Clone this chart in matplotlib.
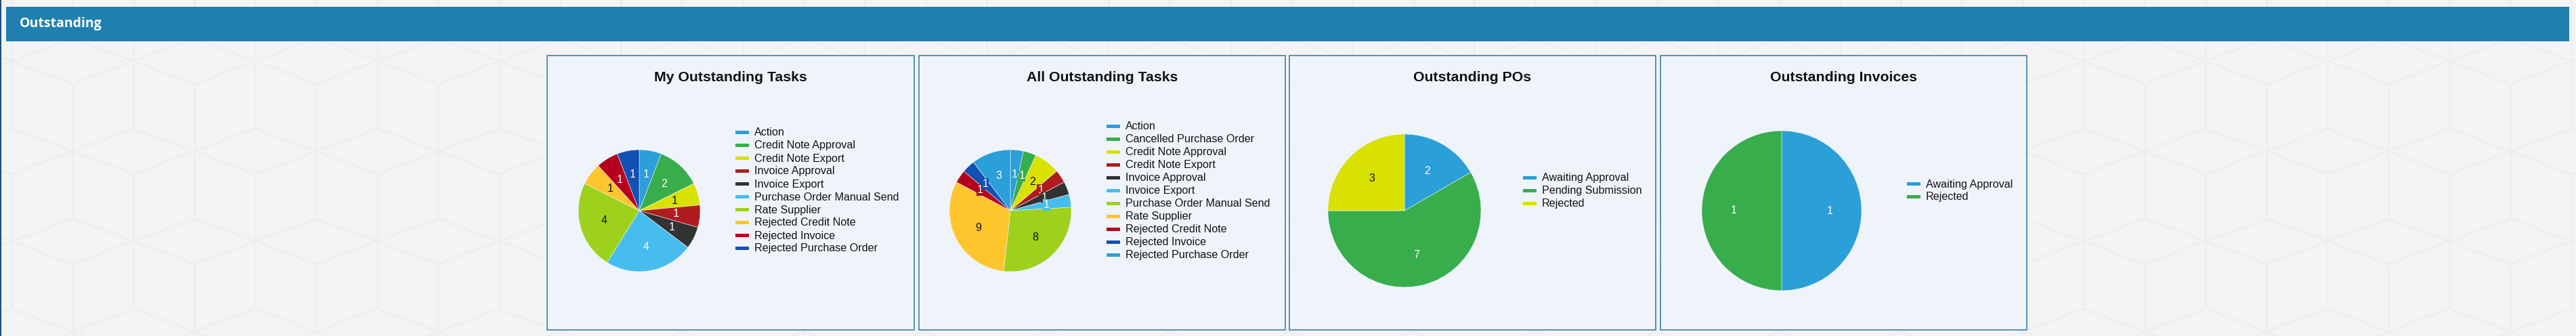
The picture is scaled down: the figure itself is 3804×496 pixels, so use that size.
import matplotlib
matplotlib.use("Agg")
import matplotlib.pyplot as plt
from matplotlib.patches import Rectangle
from matplotlib.collections import LineCollection

# ---------------- data ----------------
header_title = "Outstanding"
chart_titles = ["My Outstanding Tasks", "All Outstanding Tasks",
                "Outstanding POs", "Outstanding Invoices"]

my_tasks_labels = ["Action", "Credit Note Approval", "Credit Note Export",
                   "Invoice Approval", "Invoice Export",
                   "Purchase Order Manual Send", "Rate Supplier",
                   "Rejected Credit Note", "Rejected Invoice",
                   "Rejected Purchase Order"]
my_tasks_values = [1, 2, 1, 1, 1, 4, 4, 1, 1, 1]

all_tasks_labels = ["Action", "Cancelled Purchase Order", "Credit Note Approval",
                    "Credit Note Export", "Invoice Approval", "Invoice Export",
                    "Purchase Order Manual Send", "Rate Supplier",
                    "Rejected Credit Note", "Rejected Invoice",
                    "Rejected Purchase Order"]
all_tasks_values = [1, 1, 2, 1, 1, 1, 8, 9, 1, 1, 3]

po_labels = ["Awaiting Approval", "Pending Submission", "Rejected"]
po_values = [2, 7, 3]

inv_labels = ["Awaiting Approval", "Rejected"]
inv_values = [1, 1]

palette = ["#2a9fd8", "#37ad4b", "#d9e100", "#b01b1f", "#323232",
           "#47bdef", "#9dd11c", "#fec52d", "#b5001f", "#1251b4"]
dark_label_colors = {"#d9e100", "#9dd11c", "#fec52d"}

# ---------------- layout ----------------
W, H, DPI = 3805, 496, 100
BG = "#f4f4f4"
PANEL_FILL = "#eff4fb"
PANEL_EDGE = "#2a789e"
HEADER = "#2080b0"
FONT = ["Liberation Sans", "DejaVu Sans"]

panel_top, panel_bottom = 82, 487
# (left, right, pie centre offset, pie radius, legend offset)
panels = [(808, 1350, 136, 90, 278),
          (1357, 1898, 135, 90, 277),
          (1904, 2445, 170, 113, 345),
          (2452, 2993, 179, 118, 364)]
pie_cy = 311
legend_cy = 281
legend_step = 19
title_y = 115

fig = plt.figure(figsize=(W / DPI, H / DPI), dpi=DPI, facecolor=BG)
bg = fig.add_axes([0, 0, 1, 1])
bg.set_xlim(0, W)
bg.set_ylim(H, 0)
bg.axis("off")
bg.set_facecolor(BG)

# faint cube background pattern
segs = []
for j in range(-2, 6):
    for i in range(-3, 25):
        tx = 107 + 180 * i + 90 * j
        ty = 57 + 133 * j
        L = (tx - 90, ty + 33)
        R = (tx + 90, ty + 33)
        B = (tx, ty + 67)
        T = (tx, ty)
        segs += [[T, L], [T, R], [L, B], [R, B],
                 [L, (L[0], L[1] + 100)], [B, (B[0], B[1] + 100)]]
bg.add_collection(LineCollection(segs, colors="#eeeeee", linewidths=1.8, zorder=0))

# header bar
bg.add_patch(Rectangle((9, 10), 3794 - 9, 51, facecolor=HEADER, edgecolor="none", zorder=2))
bg.text(29, 35, header_title, color="white", fontsize=14, fontweight="bold",
        family=["Open Sans", "DejaVu Sans"], ha="left", va="center", zorder=3)
bg.add_patch(Rectangle((0, 0), 2.5, H, facecolor="#1b4f80", edgecolor="none", zorder=3))

datasets = [(my_tasks_labels, my_tasks_values),
            (all_tasks_labels, all_tasks_values),
            (po_labels, po_values),
            (inv_labels, inv_values)]

for (left, right, cx_off, r, leg_off), title, (labels, values) in zip(panels, chart_titles, datasets):
    bg.add_patch(Rectangle((left, panel_top), right - left, panel_bottom - panel_top,
                           facecolor=PANEL_FILL, edgecolor=PANEL_EDGE, linewidth=1.1, zorder=4))
    bg.text((left + right) / 2, title_y, title, ha="center", va="center",
            fontsize=15.3, fontweight="bold", family=FONT, color="#111111", zorder=5)

    colors = [palette[k % len(palette)] for k in range(len(values))]

    # pie
    cx = left + cx_off
    Rb = r + 40
    ax = fig.add_axes([(cx - Rb) / W, 1 - (pie_cy + Rb) / H, 2 * Rb / W, 2 * Rb / H])
    total = sum(values)
    wedges, _, autotexts = ax.pie(
        values, colors=colors, startangle=90, counterclock=False, radius=r,
        autopct=lambda p, t=total: f"{p * t / 100:.0f}", pctdistance=0.6,
        wedgeprops=dict(edgecolor=PANEL_FILL, linewidth=0.4),
        textprops=dict(fontsize=11.5, family=FONT))
    for w, at, c in zip(wedges, autotexts, colors):
        at.set_color("#111111" if c in dark_label_colors else "white")
        at.set_bbox(dict(facecolor=c, edgecolor="none", pad=0.6))
    ax.set_xlim(-Rb, Rb)
    ax.set_ylim(-Rb, Rb)
    ax.set_aspect("equal")
    ax.axis("off")

    # legend
    n = len(labels)
    lx = left + leg_off
    for k, (lab, c) in enumerate(zip(labels, colors)):
        y = legend_cy + (k - (n - 1) / 2) * legend_step
        bg.add_patch(Rectangle((lx, y - 2.5), 20, 5, facecolor=c, edgecolor="none", zorder=5))
        bg.text(lx + 28, y + 0.5, lab, ha="left", va="center", fontsize=11.6,
                family=FONT, color="#111111", zorder=5)

fig.savefig("out.png", dpi=DPI, facecolor=BG)
